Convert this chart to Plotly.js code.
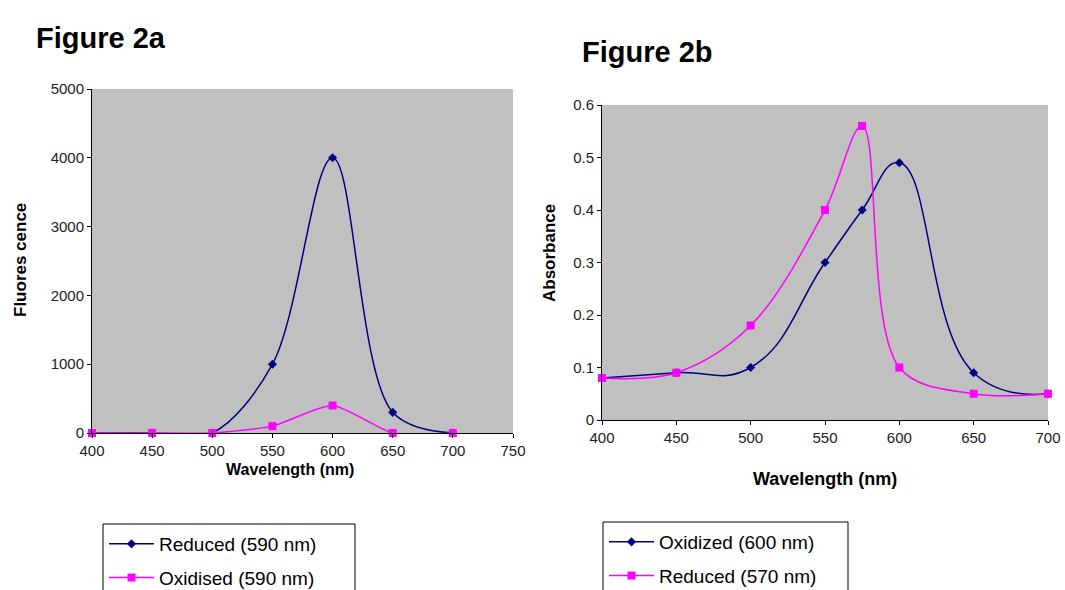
<!DOCTYPE html>
<html>
<head>
<meta charset="utf-8">
<script src="https://cdn.plot.ly/plotly-3.0.1.min.js"></script>
<style>html,body{margin:0;padding:0;background:#fff;}#chart{width:1065px;height:590px;}</style>
</head>
<body>
<div id="chart"></div>
<script>
// Figure 2a data (fluorescence)
const wlReduced2a = [400, 450, 465, 500, 550, 600, 650, 700];
const reduced2a = [0, 0, -15, 0, 1000, 4000, 300, 0];
const wlOxidised2a = [400, 450, 500, 550, 600, 650, 700];
const oxidised2a = [0, 0, 0, 100, 400, 0, 0];
// Figure 2b data (absorbance)
const wl2b = [400, 450, 500, 550, 575, 600, 650, 700];
const oxidized2b = [0.08, 0.09, 0.10, 0.30, 0.40, 0.49, 0.09, 0.05];
const reduced2b = [0.08, 0.09, 0.18, 0.40, 0.56, 0.10, 0.05, 0.05];
// tick labels
const xTicks2a = [400, 450, 500, 550, 600, 650, 700, 750];
const yTicks2a = [0, 1000, 2000, 3000, 4000, 5000];
const xTicks2b = [400, 450, 500, 550, 600, 650, 700];
const yTicks2b = [0, 0.1, 0.2, 0.3, 0.4, 0.5, 0.6];
const yTickText2b = ['0', '0.1', '0.2', '0.3', '0.4', '0.5', '0.6'];

const W = 1065, H = 590;
const px = v => v / W;
const py = v => 1 - v / H;
const NAVY = '#000080', PINK = '#ff00ff';
const FONT = 'Liberation Sans, Arial, sans-serif';

const traces = [
  {x: wlReduced2a, y: reduced2a, name: 'Reduced (590 nm)', mode: 'lines+markers', type: 'scatter',
   line: {color: NAVY, width: 1.5, shape: 'spline', smoothing: 1}, marker: {symbol: 'diamond', size: 7, color: NAVY},
   xaxis: 'x', yaxis: 'y', cliponaxis: false, legend: 'legend', legendgroup: 'a1'},
  {x: wlOxidised2a, y: oxidised2a, name: 'Oxidised (590 nm)', mode: 'lines+markers', type: 'scatter',
   line: {color: PINK, width: 1.5, shape: 'spline', smoothing: 0.6}, marker: {symbol: 'square', size: 8, color: PINK},
   xaxis: 'x', yaxis: 'y', cliponaxis: false, legend: 'legend', legendgroup: 'a2'},
  {x: wl2b, y: oxidized2b, name: 'Oxidized (600 nm)', mode: 'lines+markers', type: 'scatter',
   line: {color: NAVY, width: 1.5, shape: 'spline', smoothing: 1.3}, marker: {symbol: 'diamond', size: 7, color: NAVY},
   xaxis: 'x2', yaxis: 'y2', cliponaxis: false, legend: 'legend2', legendgroup: 'b1'},
  {x: wl2b, y: reduced2b, name: 'Reduced (570 nm)', mode: 'lines+markers', type: 'scatter',
   line: {color: PINK, width: 1.5, shape: 'spline', smoothing: 1}, marker: {symbol: 'square', size: 8, color: PINK},
   xaxis: 'x2', yaxis: 'y2', cliponaxis: false, legend: 'legend2', legendgroup: 'b2'}
];

const axisCommon = {
  showgrid: false, zeroline: false, showline: true, linecolor: '#000', linewidth: 1,
  ticks: 'outside', ticklen: 4, tickcolor: '#000', tickwidth: 1,
  tickfont: {family: FONT, size: 15, color: '#222'}, fixedrange: true
};

const legendCommon = {
  xanchor: 'left', yanchor: 'top', borderwidth: 0, bgcolor: 'rgba(0,0,0,0)',
  font: {family: FONT, size: 19, color: '#000'}, tracegroupgap: 6, itemwidth: 45
};

const layout = {
  width: W, height: H,
  margin: {l: 0, r: 0, t: 0, b: 0, autoexpand: false},
  paper_bgcolor: '#fff', plot_bgcolor: '#c0c0c0',
  showlegend: true,
  xaxis: Object.assign({}, axisCommon, {domain: [px(92), px(513)], range: [400, 750], tickvals: xTicks2a, anchor: 'y'}),
  yaxis: Object.assign({}, axisCommon, {domain: [py(433), py(89)], range: [0, 5000], tickvals: yTicks2a, anchor: 'x'}),
  xaxis2: Object.assign({}, axisCommon, {domain: [px(602), px(1048)], range: [400, 700], tickvals: xTicks2b, anchor: 'y2'}),
  yaxis2: Object.assign({}, axisCommon, {domain: [py(420), py(105)], range: [0, 0.6], tickvals: yTicks2b, ticktext: yTickText2b, anchor: 'x2'}),
  legend: Object.assign({}, legendCommon, {x: px(104), y: py(525)}),
  legend2: Object.assign({}, legendCommon, {x: px(604), y: py(523)}),
  shapes: [
    {type: 'rect', xref: 'paper', yref: 'paper', x0: px(103), x1: px(355), y0: py(600), y1: py(524),
     line: {color: '#000', width: 1}, fillcolor: '#fff', layer: 'below'},
    {type: 'rect', xref: 'paper', yref: 'paper', x0: px(603), x1: px(848), y0: py(600), y1: py(522),
     line: {color: '#000', width: 1}, fillcolor: '#fff', layer: 'below'}
  ],
  annotations: [
    {text: '<b>Figure 2a</b>', xref: 'paper', yref: 'paper', x: px(34), y: py(38), xanchor: 'left', yanchor: 'middle',
     showarrow: false, font: {family: FONT, size: 29, color: '#000'}},
    {text: '<b>Figure 2b</b>', xref: 'paper', yref: 'paper', x: px(580), y: py(52), xanchor: 'left', yanchor: 'middle',
     showarrow: false, font: {family: FONT, size: 29, color: '#000'}},
    {text: '<b>Wavelength (nm)</b>', xref: 'paper', yref: 'paper', x: px(290), y: py(469), xanchor: 'center', yanchor: 'middle',
     showarrow: false, font: {family: FONT, size: 16, color: '#000'}},
    {text: '<b>Wavelength (nm)</b>', xref: 'paper', yref: 'paper', x: px(825), y: py(479), xanchor: 'center', yanchor: 'middle',
     showarrow: false, font: {family: FONT, size: 18, color: '#000'}},
    {text: '<b>Fluores cence</b>', xref: 'paper', yref: 'paper', x: px(21), y: py(260), xanchor: 'center', yanchor: 'middle',
     textangle: -90, showarrow: false, font: {family: FONT, size: 17, color: '#000'}},
    {text: '<b>Absorbance</b>', xref: 'paper', yref: 'paper', x: px(549), y: py(253), xanchor: 'center', yanchor: 'middle',
     textangle: -90, showarrow: false, font: {family: FONT, size: 17, color: '#000'}}
  ]
};

Plotly.newPlot('chart', traces, layout, {displayModeBar: false, staticPlot: true});
</script>
</body>
</html>
